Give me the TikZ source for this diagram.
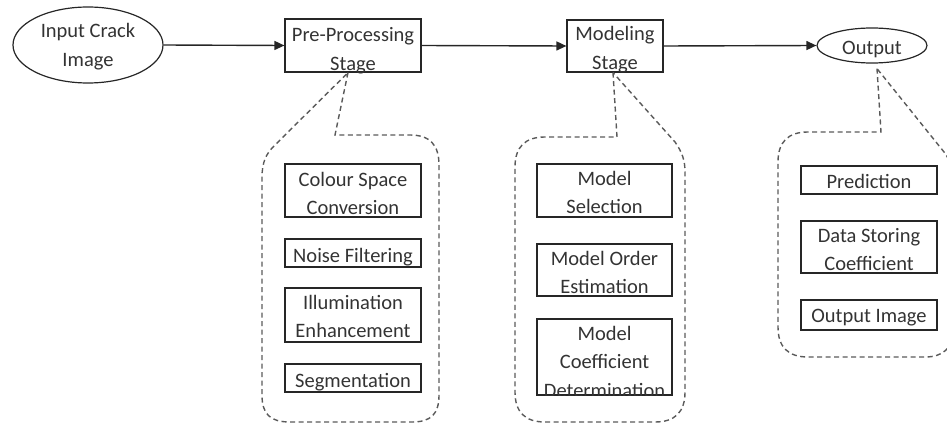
\documentclass[tikz,border=0pt]{standalone}
\usepackage{fontspec}
\setmainfont{Carlito}
\usetikzlibrary{shapes.geometric,arrows.meta}
\newcommand{\ml}[1]{\begin{tabular}[t]{@{}c@{}}#1\end{tabular}}
\definecolor{txtc}{HTML}{333333}
\definecolor{dashc}{HTML}{5A5A5A}
\definecolor{linec}{HTML}{262626}
\begin{document}
\begin{tikzpicture}[x=1pt, y=-1pt, font=\fontsize{20.5}{28.5}\selectfont,
  box/.style={draw=linec, line width=1.2pt, rectangle, inner sep=0pt},
  oval/.style={draw=linec, line width=1.2pt, ellipse, inner sep=0pt},
  tx/.style={anchor=base, text=txtc, inner sep=0pt},
  arr/.style={draw=linec, line width=1.4pt, -{Triangle[length=10pt,width=9pt]}},
  callout/.style={draw=dashc, line width=1.4pt, dash pattern=on 5pt off 3.5pt}]
\useasboundingbox (0,0) rectangle (947,425);

% main flow
\node[oval, minimum width=150pt, minimum height=76pt] (in) at (88,45) {};
\node[tx] (tin) at (88,38) {\ml{Input Crack\\Image}};
\node[box, minimum width=136pt, minimum height=53pt] (pp) at (353,45.5) {};
\node[tx] (tpp) at (353,42) {\ml{Pre-Processing\\Stage}};
\node[box, minimum width=96pt, minimum height=52pt] (mod) at (615,46) {};
\node[tx] (tmod) at (615,41) {\ml{Modeling\\Stage}};
\node[oval, minimum width=110pt, minimum height=35pt] (out) at (872,45.5) {};
\node[tx] (tout) at (872,55) {Output};

\draw[arr] (in.east) -- (pp.west);
\draw[arr] (pp.east) -- (mod.west);
\draw[arr] (mod.east) -- (out.west);

% callout 1
\coordinate (A1) at ([xshift=-5pt]pp.south);
\draw[callout] (A1) -- (335,135) -- (410,135) .. controls (430,135) and (439,145) .. (439,165) -- (439,395) .. controls (439,414) and (431,422) .. (412,422) -- (290,422) .. controls (270,422) and (262,414) .. (262,395) -- (262,178) .. controls (262,162) and (266,154) .. (274,146) -- cycle;
\node[box, minimum width=136pt, minimum height=53pt] (b11) at (353,190.5) {};
\node[tx] (t11) at (353,186) {\ml{Colour Space\\Conversion}};
\node[box, minimum width=136pt, minimum height=28pt] (b12) at (353,253) {};
\node[tx] (t12) at (353,262) {Noise Filtering};
\node[box, minimum width=136pt, minimum height=54pt] (b13) at (353,315) {};
\node[tx] (t13) at (353,309) {\ml{Illumination\\Enhancement}};
\node[box, minimum width=136pt, minimum height=28pt] (b14) at (353,378) {};
\node[tx] (t14) at (353,387) {Segmentation};

% callout 2
\coordinate (A2) at ([xshift=-2pt]mod.south);
\draw[callout] (A2) -- (617,137) -- (545,137) .. controls (525,137) and (515,147) .. (515,167) -- (515,392) .. controls (515,412) and (525,422) .. (545,422) -- (655,422) .. controls (675,422) and (685,412) .. (685,392) -- (685,172) .. controls (685,160) and (682,152) .. (675,142) -- cycle;
\node[box, minimum width=135pt, minimum height=53pt] (b21) at (604.5,190.5) {};
\node[tx] (t21) at (604.5,185) {\ml{Model\\Selection}};
\node[box, minimum width=135pt, minimum height=52pt] (b22) at (604.5,270) {};
\node[tx] (t22) at (604.5,265) {\ml{Model Order\\Estimation}};
\node[box, minimum width=135pt, minimum height=76pt] (b23) at (604.5,357) {};
\begin{scope}
\clip (b23.south west) rectangle (b23.north east);
\node[tx] (t23) at (604.5,340) {\ml{Model\\Coefficient\\Determination}};
\end{scope}

% callout 3
\coordinate (A3) at ([xshift=5pt,yshift=-5pt]out.south);
\draw[callout] (A3) -- (881,132) -- (808,132) .. controls (788,132) and (778,142) .. (778,162) -- (778,327) .. controls (778,347) and (788,357) .. (808,357) -- (925,357) .. controls (943,357) and (953,348) .. (953,330) -- (953,180) .. controls (953,168) and (950,160) .. (944,152) -- cycle;
\node[box, minimum width=136pt, minimum height=28pt] (b31) at (869,180) {};
\node[tx] (t31) at (869,188) {Prediction};
\node[box, minimum width=136pt, minimum height=52pt] (b32) at (869,247) {};
\node[tx] (t32) at (869,242) {\ml{Data Storing\\Coefficient}};
\node[box, minimum width=136pt, minimum height=30pt] (b33) at (869,315) {};
\node[tx] (t33) at (869,322) {Output Image};
\end{tikzpicture}
\end{document}
